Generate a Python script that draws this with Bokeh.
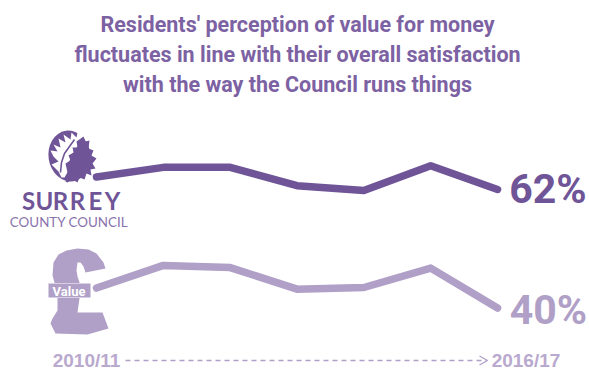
from bokeh.core.properties import value
from bokeh.embed import file_html
from bokeh.models import Range1d
from bokeh.plotting import figure
from bokeh.resources import INLINE

years = ["2010/11", "2011/12", "2012/13", "2013/14", "2014/15", "2015/16", "2016/17"]
overall_satisfaction = [64.3, 66.1, 66.1, 62.7, 61.8, 66.4, 62]
value_for_money = [43.7, 47.9, 47.5, 43.5, 43.8, 47.4, 40]
title_lines = [
    "Residents' perception of value for money",
    "fluctuates in line with their overall satisfaction",
    "with the way the Council runs things",
]

DARK = "#6f5597"
LIGHT = "#b09fc6"
TITLE = "#7c62a3"
SANS = value("Liberation Sans")
TIGHT = value("Roboto")

p = figure(
    width=589, height=370, output_backend="svg", toolbar_location=None,
    x_range=Range1d(-1.437, 7.376), y_range=Range1d(28.4, 97.06),
    min_border=0, outline_line_color=None, background_fill_color="white",
)
p.xaxis.visible = False
p.yaxis.visible = False
p.grid.visible = False

# page-pixel coordinates for the logo, the pound sign and the captions
p.extra_x_ranges["page"] = Range1d(0, 589)
p.extra_y_ranges["page"] = Range1d(370, 0)
page = dict(x_range_name="page", y_range_name="page")


def caption(x, y, text, size, color, align="center", style="bold", font=SANS):
    p.text([x], [y], text=[text], text_font=font, text_font_size=f"{size}px",
           text_color=color, text_align=align, text_baseline="middle",
           text_font_style=style, **page)


# headline
for y, line in zip([24, 54, 84], title_lines):
    caption(297, y, line, 21.5, TITLE, font=TIGHT)

# the two series
positions = list(range(len(years)))
for series, color in ((overall_satisfaction, DARK), (value_for_money, LIGHT)):
    p.line(positions, series, line_color=color, line_width=7.5,
           line_cap="round", line_join="round")

caption(547.5, 188, f"{overall_satisfaction[-1]}%", 41, DARK, font=TIGHT)
caption(548, 309, f"{value_for_money[-1]}%", 41, LIGHT, font=TIGHT)

# council crest: dark oval, pale leaf inside it, oak leaf over its right side
p.ellipse([69], [155.5], width=[42], height=[51], angle=[0.15],
          fill_color=DARK, line_color=None, **page)
p.patch([61, 58, 55, 51, 58, 53, 50, 57, 53, 60, 58, 65, 63, 70, 71, 76, 77, 83, 81, 75, 72, 67, 68, 64],
        [177, 171, 168, 164, 161, 156, 150, 151, 144, 147, 138, 142, 134, 139, 132, 137, 132, 136, 142, 148, 156, 163, 170, 177],
        fill_color="white", line_color=None, **page)
p.line([60, 61, 64, 69, 74], [172, 162, 153, 146, 139], line_color=DARK, line_width=1.6, **page)
p.patch([65, 67, 65, 70, 68, 73, 72, 77, 76, 83, 85, 89, 88, 93, 91, 96, 92, 95, 90, 91, 86, 84, 79, 77, 72, 67],
        [181, 172, 163, 160, 155, 152, 147, 147, 141, 136, 141, 140, 148, 150, 155, 158, 163, 168, 169, 175, 173, 179, 177, 182, 179, 182],
        fill_color=DARK, line_color=None, **page)

# council name, spaced letter by letter
for x, letter in zip([28, 44, 60, 77, 95, 112], "SURREY"):
    caption(x, 199.5, letter, 24, DARK, font=value("Lato"))
caption(68.5, 221, "COUNTY COUNCIL", 13.4, "#8a73ac", style="normal", font=value("Lato"))

# pound sign with its tag
p.patch([105, 95, 85, 83, 80, 77, 76, 77, 79, 79, 78, 77, 102, 108, 87, 55, 50, 52, 57, 57, 54, 52, 53, 58, 66, 77, 88, 96, 103],
        [268, 270, 272, 266, 262, 262, 270, 276, 282, 298, 305, 312, 312, 328, 334, 333, 323, 318, 310, 298, 282, 275, 262, 254, 250, 248, 249, 253, 262],
        fill_color=LIGHT, line_color=None, **page)
p.patch([47.5, 90.5, 90.5, 47.5], [282.5, 282.5, 297.5, 297.5], fill_color="white", line_color=None, **page)
p.patch([48, 90, 90, 48], [283, 283, 297, 297], fill_color=LIGHT, line_color=None, **page)
caption(68.5, 290.5, "Value", 13, "white", font=TIGHT)

# time span along the foot
caption(86, 360, years[0], 19, "#b9a9ce")
caption(525.5, 360, years[-1], 19, "#b9a9ce")
p.line([125, 486], [360, 360], line_color=LIGHT, line_width=1.4, line_dash="5 4", **page)
p.line([479, 487, 479], [355.5, 360, 364.5], line_color=LIGHT, line_width=1.4, **page)

open("out.html", "w").write(file_html(p, INLINE))
